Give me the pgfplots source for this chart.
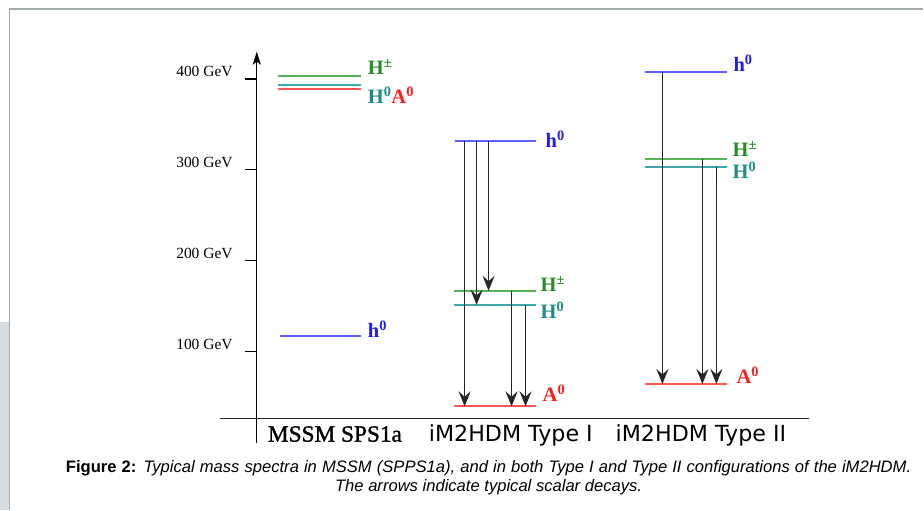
\documentclass[border=0pt]{standalone}
\usepackage{pgfplots}
\pgfplotsset{compat=1.18}
\usepackage{fontspec}
\setmainfont{Liberation Serif}
\newfontfamily\semiserif[FakeBold=1.2]{Liberation Serif}
\newfontfamily\capfont{Liberation Sans}
\newfontfamily\catfont{DejaVu Sans}
\usetikzlibrary{arrows.meta}

% level colours (lines) and label colours
\definecolor{hpmline}{RGB}{85,180,85}
\definecolor{hpmtext}{RGB}{40,140,40}
\definecolor{Hzline}{RGB}{60,170,170}
\definecolor{Hztext}{RGB}{30,140,140}
\definecolor{Azline}{RGB}{255,85,85}
\definecolor{Aztext}{RGB}{250,30,30}
\definecolor{hzline}{RGB}{95,95,255}
\definecolor{hztext}{RGB}{30,30,240}
\definecolor{frame}{RGB}{162,170,170}
\definecolor{panel}{RGB}{214,219,224}

\newcommand\lvl[2]{\textbf{#1}\textsuperscript{\textbf{#2}}}

\tikzset{
  level/.style={line width=1.9pt},
  decay/.style={line width=1.6pt, color=black!85,
    -{Stealth[length=15pt, width=12pt, inset=5.5pt]}},
  lab/.style={anchor=base west, inner sep=0pt, font=\fontsize{20.5}{24}\selectfont},
}

\begin{document}
\begin{tikzpicture}
\begin{axis}[
  scale only axis, width=924pt, height=510pt,
  xmin=0, xmax=924, ymin=-73.626, ymax=486.813,
  hide axis, clip=false,
]
% page frame
\path (axis cs:0,-73.626) rectangle (axis cs:924,486.813);
\fill[panel] (axis cs:0,-73.626) rectangle (axis cs:9.5,133.0);
\draw[frame, line width=1.6pt] (axis cs:9.5,-73.626) -- (axis cs:9.5,476.9) -- (axis cs:924,476.9);

% mass axis and baseline
\draw[line width=1.4pt, -{Stealth[length=13pt, width=8pt, inset=3pt]}] (axis cs:257,0) -- (axis cs:257,430);
\draw[line width=1.4pt, black!85] (axis cs:220,26.37) -- (axis cs:810,26.37);
\pgfplotsinvokeforeach{100,200,300,400}{
  \draw[line width=1.2pt] (axis cs:245,#1) -- (axis cs:257,#1);
  \node[anchor=base east, inner sep=0pt, font=\fontsize{15.5}{18}\selectfont]
    at (axis cs:233,#1+2.4) {#1 GeV};
}

% MSSM SPS1a levels
\addplot[level, hpmline] coordinates {(278,403.6) (361,403.6)};
\addplot[level, Hzline]  coordinates {(278,393.0) (361,393.0)};
\addplot[level, Azline]  coordinates {(278,389.0) (361,389.0)};
\addplot[level, hzline]  coordinates {(280,116.8) (361,116.8)};

% iM2HDM Type I levels
\addplot[level, hzline]  coordinates {(455,332.0) (536,332.0)};
\addplot[level, hpmline] coordinates {(454,167.0) (536,167.0)};
\addplot[level, Hzline]  coordinates {(454,151.6) (536,151.6)};
\addplot[level, Azline]  coordinates {(454,39.9) (536,39.9)};

% iM2HDM Type II levels
\addplot[level, hzline]  coordinates {(646,407.7) (728,407.7)};
\addplot[level, hpmline] coordinates {(646,312.0) (728,312.0)};
\addplot[level, Hzline]  coordinates {(646,303.0) (728,303.0)};
\addplot[level, Azline]  coordinates {(646,64.5) (728,64.5)};

% Type I decays
\addplot[decay] coordinates {(465,332.0) (465,39.9)};
\addplot[decay] coordinates {(477,332.0) (477,151.6)};
\addplot[decay] coordinates {(489,332.0) (489,167.0)};
\addplot[decay] coordinates {(512,167.0) (512,39.9)};
\addplot[decay] coordinates {(526,151.6) (526,39.9)};

% Type II decays
\addplot[decay] coordinates {(663,407.7) (663,64.5)};
\addplot[decay] coordinates {(703,312.0) (703,64.5)};
\addplot[decay] coordinates {(717,303.0) (717,64.5)};

% level names
\node[lab, hpmtext] at (axis cs:368,404.4) {\lvl{H}{±}};
\node[lab] at (axis cs:368,372.5) {\color{Hztext}\lvl{H}{0}\color{Aztext}\lvl{A}{0}};
\node[lab, hztext] at (axis cs:368,115.4) {\lvl{h}{0}};
\node[lab, hztext] at (axis cs:546,324.2) {\lvl{h}{0}};
\node[lab, hpmtext] at (axis cs:541,165.9) {\lvl{H}{±}};
\node[lab, Hztext] at (axis cs:541,136.3) {\lvl{H}{0}};
\node[lab, Aztext] at (axis cs:543,45.1) {\lvl{A}{0}};
\node[lab, hztext] at (axis cs:734,407.7) {\lvl{h}{0}};
\node[lab, hpmtext] at (axis cs:733,314.3) {\lvl{H}{±}};
\node[lab, Hztext] at (axis cs:733,290.1) {\lvl{H}{0}};
\node[lab, Aztext] at (axis cs:737,64.8) {\lvl{A}{0}};

% model names
\node[anchor=base west, inner sep=0pt, font=\semiserif\fontsize{23.3}{27}\selectfont]
  at (axis cs:268,1.1) {MSSM SPS1a};
\node[anchor=base west, inner sep=0pt, font=\catfont\fontsize{22.2}{26}\selectfont]
  at (axis cs:429,1.1) {iM2HDM Type I};
\node[anchor=base west, inner sep=0pt, font=\catfont\fontsize{22.2}{26}\selectfont]
  at (axis cs:616,1.1) {iM2HDM Type II};

% caption (first line set justified)
\node[anchor=base, inner sep=0pt, font=\capfont\fontsize{16.6}{20}\selectfont]
  at (axis cs:489,-32.6) {\makebox[846pt][s]{\textbf{Figure 2:} \textit{Typical mass spectra in MSSM (SPPS1a), and in both Type I and Type II configurations of the iM2HDM.}}};
\node[anchor=base, inner sep=0pt, font=\capfont\fontsize{16.6}{20}\selectfont]
  at (axis cs:489,-53.6) {\textit{The arrows indicate typical scalar decays.}};
\end{axis}
\end{tikzpicture}
\end{document}
